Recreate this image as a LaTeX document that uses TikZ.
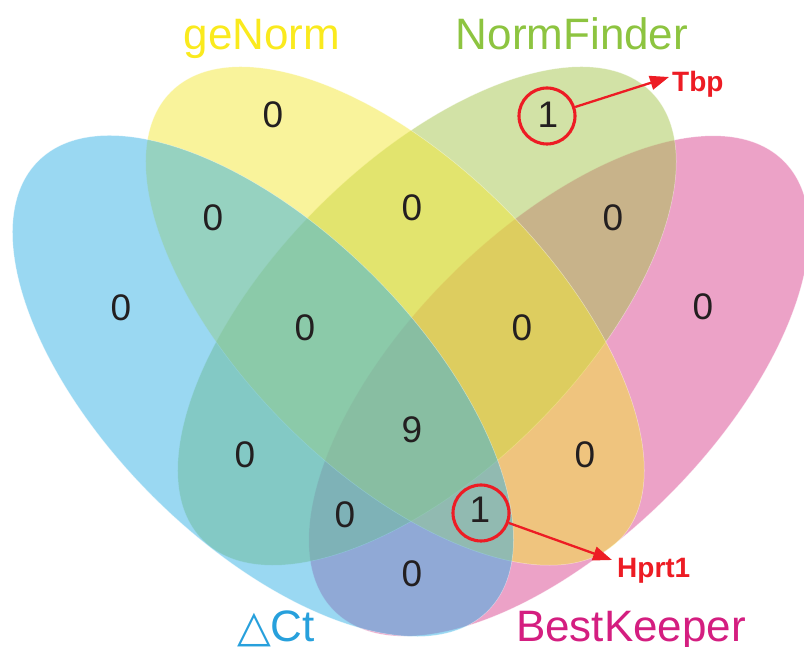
\documentclass[tikz,border=0pt]{standalone}
\usepackage{fontspec}
\setmainfont{Liberation Sans}
\newfontfamily\symfont{DejaVu Sans}
\usetikzlibrary{arrows.meta}

% set colours (filled at half opacity)
\definecolor{ctblue}{RGB}{53,177,229}
\definecolor{gnyellow}{RGB}{243,231,55}
\definecolor{nfgreen}{RGB}{165,197,77}
\definecolor{bkpink}{RGB}{217,69,143}
% label colours
\definecolor{ctlabel}{RGB}{39,160,220}
\definecolor{gnlabel}{RGB}{250,234,30}
\definecolor{nflabel}{RGB}{141,196,64}
\definecolor{bklabel}{RGB}{212,30,128}
\definecolor{markred}{RGB}{237,28,36}
\definecolor{numink}{RGB}{35,31,32}

\begin{document}
\begin{tikzpicture}[x=1pt,y=1pt,
  setfill/.style={fill=#1, fill opacity=0.5, draw=white, draw opacity=0.45, line width=0.5pt},
  count/.style={text=numink, font=\fontsize{37}{37}\selectfont, inner sep=0pt},
  setname/.style={font=\fontsize{44}{44}\selectfont, text=#1, anchor=base, inner sep=0pt},
  hit/.style={circle, draw=markred, line width=3.1pt, minimum size=56pt, inner sep=0pt},
  gene/.style={text=markred, font=\bfseries\fontsize{28}{28}\selectfont, anchor=base west, inner sep=0pt},
  pointer/.style={draw=markred, line width=2.3pt, -{Triangle[length=19pt,width=14pt]}}
]
\useasboundingbox (0,0) rectangle (804,647);
\clip (0,0) rectangle (804,647);

% the four sets, bottom to top: BestKeeper, NormFinder, geNorm, Delta Ct
\path[setfill=bkpink,   rotate around={45:(559,261)}]  (559,261) ellipse [x radius=318pt, y radius=155pt];
\path[setfill=nfgreen,  rotate around={45:(427,331)}]  (427,331) ellipse [x radius=317pt, y radius=154pt];
\path[setfill=gnyellow, rotate around={-45:(395,331)}] (395,331) ellipse [x radius=317pt, y radius=154pt];
\path[setfill=ctblue,   rotate around={-45:(263,261)}] (263,261) ellipse [x radius=318pt, y radius=156pt];

% region counts
\node[count] (n1)  at (121,339) {0};
\node[count] (n2)  at (273,532) {0};
\node[count] (n3)  at (548,532) {1};
\node[count] (n4)  at (703,340) {0};
\node[count] (n5)  at (213,429) {0};
\node[count] (n6)  at (412,439) {0};
\node[count] (n7)  at (613,429) {0};
\node[count] (n8)  at (305,319) {0};
\node[count] (n9)  at (522,319) {0};
\node[count] (n10) at (245,192) {0};
\node[count] (n11) at (585,192) {0};
\node[count] (n12) at (412,217) {9};
\node[count] (n13) at (345,132) {0};
\node[count] (n14) at (480,137) {1};
\node[count] (n15) at (412,73)  {0};

% set names
\node[setname=gnlabel] (lgn) at (262,597) {geNorm};
\node[setname=nflabel] (lnf) at (572,597) {NormFinder};
\node[setname=ctlabel] (lct) at (276,5) {{\symfont △}Ct};
\node[setname=bklabel] (lbk) at (631,5) {BestKeeper};

% highlighted genes
\node[hit] (c1) at (547,531) {};
\node[hit] (c2) at (481,134) {};
\coordinate (tbptip) at (669,570);
\coordinate (hprtip) at (612,87);
\node[gene] (tbp) at (672,555) {Tbp};
\node[gene] (hprt) at (617,69) {Hprt1};
\draw[pointer] (c1) -- (tbptip);
\draw[pointer] (c2) -- (hprtip);
\end{tikzpicture}
\end{document}
